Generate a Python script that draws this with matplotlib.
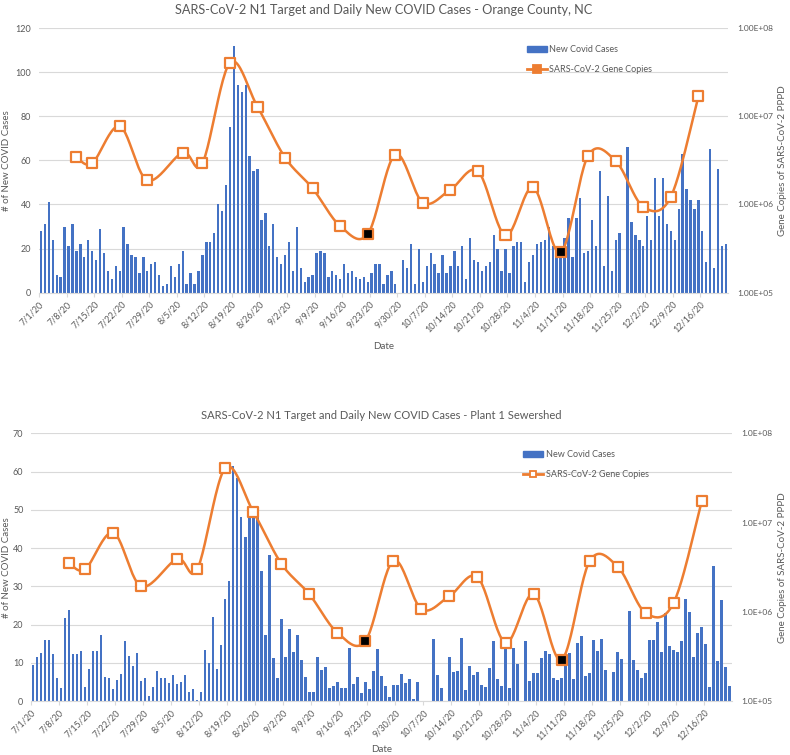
import numpy as np
import pandas as pd
import matplotlib
matplotlib.use("Agg")
import matplotlib.pyplot as plt
from matplotlib.lines import Line2D
from matplotlib.patches import Patch

plt.rcParams['font.family'] = ['Lato', 'DejaVu Sans']

# daily new cases, 7/1/20 .. 12/22/20
start = '2020-07-01'
cases_county = [28, 31, 41, 24, 8, 7, 30, 21, 31, 19, 22, 16, 24, 19, 15, 29, 18, 10, 6, 12,
                10, 30, 22, 17, 16, 9, 16, 10, 13, 14, 8, 3, 4, 12, 7, 13, 19, 4, 9, 4,
                10, 17, 23, 23, 27, 40, 37, 49, 75, 112, 94, 91, 94, 62, 55, 56, 33, 36, 21, 31,
                16, 13, 17, 23, 10, 30, 11, 5, 7, 8, 18, 19, 18, 7, 10, 8, 6, 13, 9, 10,
                7, 6, 7, 5, 9, 13, 13, 4, 8, 10, 4, 0, 15, 11, 22, 4, 20, 5, 12, 18,
                13, 9, 17, 9, 12, 19, 12, 21, 6, 25, 15, 14, 10, 12, 14, 26, 20, 10, 20, 9,
                21, 23, 23, 5, 14, 17, 22, 23, 24, 30, 21, 17, 17, 25, 34, 16, 34, 43, 18, 19,
                33, 21, 55, 12, 44, 10, 24, 27, 0, 66, 32, 26, 24, 21, 35, 24, 52, 35, 52, 31,
                28, 24, 38, 63, 47, 42, 38, 42, 28, 14, 65, 11, 56, 21, 22]
cases_plant = [9.5, 11.5, 12.6, 16, 16, 12.3, 6.1, 3.3, 21.7, 23.9, 12.3, 12.3, 13.2, 3.7, 8.4, 13, 13.1, 17.3, 6.4, 5.9,
               3.1, 5.5, 7.1, 15.7, 11.7, 9.1, 12.6, 5.2, 6.1, 1.3, 3.7, 7.9, 6.0, 6.0, 4.7, 6.7, 4.4, 5.1, 6.8, 2.4,
               3.1, 0.3, 2.4, 13.4, 9.9, 22, 8.4, 14.7, 26.8, 31.3, 61.4, 58.2, 48, 42.9, 48, 49.4, 48.5, 34.1, 17.2, 38.2,
               11.3, 6.0, 21.5, 11.6, 18.9, 12.8, 17.2, 10.7, 6.2, 2.4, 2.4, 11.4, 8.1, 8.8, 3.4, 3.8, 5.0, 3.3, 3.3, 13.8,
               4.5, 6.3, 2.0, 5.0, 3.2, 7.9, 13.7, 6.6, 3.8, 1.1, 4.3, 4.3, 7.0, 4.6, 5.8, 0.5, 5.0, 0, 0, 0,
               16.3, 6.8, 3.3, 0, 11.5, 7.7, 7.9, 16.6, 3.0, 9.2, 6.8, 7.5, 4.2, 3.6, 8.7, 15.7, 5.8, 3.8, 14.7, 3.4,
               13.9, 9.8, 0, 15.7, 5.2, 7.3, 7.3, 11.3, 13.1, 12.2, 6.1, 5.5, 6.1, 10, 12.5, 5.7, 15.2, 17.1, 6.6, 7.4,
               15.9, 13.1, 16.3, 8.0, 0, 7.5, 12.9, 11.0, 0, 23.5, 10.6, 8.2, 6.0, 7.2, 16, 15.9, 20.6, 12.9, 22.9, 14.3,
               13.4, 12.8, 15.7, 26.7, 23.3, 11.4, 17.8, 19.3, 14.9, 3.7, 35.4, 10.5, 26.5, 8.9, 3.8]

# wastewater samples
sample_dates = ['7/10/20', '7/14/20', '7/21/20', '7/28/20', '8/6/20', '8/11/20', '8/18/20', '8/25/20',
                '9/1/20', '9/8/20', '9/15/20', '9/22/20', '9/29/20', '10/6/20', '10/13/20', '10/20/20',
                '10/27/20', '11/3/20', '11/10/20', '11/17/20', '11/24/20', '12/1/20', '12/8/20', '12/15/20']
genes_county = [3.45e6, 2.93e6, 7.69e6, 1.88e6, 3.87e6, 2.93e6, 4.04e7, 1.28e7, 3.40e6, 1.52e6, 5.69e5, 4.61e5,
                3.68e6, 1.05e6, 1.47e6, 2.38e6, 4.46e5, 1.56e6, 2.86e5, 3.58e6, 3.11e6, 9.40e5, 1.22e6, 1.68e7]
genes_plant = [3.52e6, 2.99e6, 7.71e6, 1.93e6, 3.91e6, 2.99e6, 4.09e7, 1.32e7, 3.46e6, 1.57e6, 5.83e5, 4.71e5,
               3.74e6, 1.07e6, 1.50e6, 2.44e6, 4.51e5, 1.58e6, 2.90e5, 3.68e6, 3.21e6, 9.70e5, 1.26e6, 1.73e7]
flagged = ['9/22/20', '11/10/20']   # black filled markers

BLUE = '#4472C4'
ORANGE = '#ED7D31'
GRAY = '#595959'
GRID = '#D9D9D9'


def smooth_curve(x, y, n=25):
    # Excel-like smoothed line (bezier through the points)
    pts = np.column_stack([x, y])
    out = []
    for i in range(len(pts) - 1):
        p0 = pts[max(i - 1, 0)]
        p1 = pts[i]
        p2 = pts[i + 1]
        p3 = pts[min(i + 2, len(pts) - 1)]
        c1 = p1 + (p2 - p0) / 6
        c2 = p2 - (p3 - p1) / 6
        t = np.linspace(0, 1, n)[:, None]
        seg = (1 - t) ** 3 * p1 + 3 * (1 - t) ** 2 * t * c1 + 3 * (1 - t) * t ** 2 * c2 + t ** 3 * p2
        out.append(seg if i == 0 else seg[1:])
    return np.vstack(out)


def draw_panel(rect, cases, genes, title, ymax, ystep, fmt, title_size, leg_xy, lab_x, date_y,
               leg_face, leg_ms):
    ax = fig.add_axes(rect)
    days = np.arange(len(cases))
    ax.bar(days, cases, width=0.6, color=BLUE, zorder=2)
    ax.set_xlim(-0.5, len(cases) - 0.5)
    ax.set_ylim(0, ymax)
    ax.set_yticks(np.arange(0, ymax + 1, ystep))
    ax.grid(axis='y', color=GRID, lw=0.8, zorder=0)
    ax.set_axisbelow(True)
    for s in ['top', 'right', 'left']:
        ax.spines[s].set_visible(False)
    ax.spines['bottom'].set_color(GRID)

    d0 = pd.Timestamp(start)
    tick_dates = pd.date_range(start, periods=25, freq='7D')
    ax.set_xticks([(d - d0).days - 0.5 for d in tick_dates])
    ax.set_xticklabels([f'{d.month}/{d.day}/{d.year % 100}' for d in tick_dates],
                       rotation=45, ha='right', rotation_mode='anchor')
    ax.tick_params(axis='x', colors=GRID, labelcolor=GRAY, labelsize=6.5, length=3, pad=2)
    ax.tick_params(axis='y', length=0, labelcolor=GRAY, labelsize=6.5, pad=5.5)
    ax.set_xlabel('Date', color=GRAY, fontsize=7)
    ax.xaxis.set_label_coords(0.5, date_y)
    ax.set_ylabel('# of New COVID Cases', color=GRAY, fontsize=7)
    ax.yaxis.set_label_coords(lab_x[0], 0.5)
    ax.set_title(title, color=GRAY, fontsize=title_size, pad=10)

    ax2 = ax.twinx()
    ax2.set_yscale('log')
    ax2.set_ylim(1e5, 1e8)
    ax2.set_yticks([1e5, 1e6, 1e7, 1e8])
    ax2.set_yticklabels([fmt.format(v).replace('e', 'E') for v in [1e5, 1e6, 1e7, 1e8]])
    ax2.minorticks_off()
    ax2.tick_params(axis='y', length=0, labelcolor=GRAY, labelsize=6, pad=7)
    for s in ax2.spines.values():
        s.set_visible(False)
    ax2.set_ylabel('Gene Copies of SARS-CoV-2 PPPD', color=GRAY, fontsize=7)
    ax2.yaxis.set_label_coords(lab_x[1], 0.5)

    sx = np.array([(pd.to_datetime(d, format='%m/%d/%y') - d0).days for d in sample_dates], dtype=float)
    ly = np.log10(genes)
    curve = smooth_curve(sx * 3.94, ly * 88.0)
    ax2.plot(curve[:, 0] / 3.94, 10 ** (curve[:, 1] / 88.0), color=ORANGE, lw=1.8, zorder=3)
    face = ['black' if d in flagged else 'white' for d in sample_dates]
    ax2.scatter(sx, genes, marker='s', s=52, facecolors=face, edgecolors=ORANGE,
                linewidths=1.6, zorder=4)

    handles = [Patch(color=BLUE),
               Line2D([], [], color=ORANGE, lw=2, marker='s', ms=leg_ms, mfc=leg_face, mec=ORANGE,
                      mew=1.3)]
    ax2.legend(handles, ['New Covid Cases', 'SARS-CoV-2 Gene Copies'], loc='upper left',
               bbox_to_anchor=leg_xy, frameon=False, fontsize=6.5, labelcolor=GRAY,
               handlelength=2.2, handletextpad=0.3, labelspacing=1.2, borderaxespad=0)
    return ax


fig = plt.figure(figsize=(7.9, 7.55), dpi=100)
draw_panel([0.0494, 0.6123, 0.872, 0.3506], cases_county, genes_county,
           'SARS-CoV-2 N1 Target and Daily New COVID Cases - Orange County, NC',
           120, 20, '{:.2e}', 9.2, (0.703, 0.95), (-0.04, 1.073), -0.185, ORANGE, 6)
draw_panel([0.0394, 0.0715, 0.8868, 0.3546], cases_plant, genes_plant,
           'SARS-CoV-2 N1 Target and Daily New COVID Cases - Plant 1 Sewershed',
           70, 10, '{:.1e}', 8, (0.697, 0.95), (-0.029, 1.066), -0.163, 'white', 4.5)
fig.savefig('out.png', dpi=100)
